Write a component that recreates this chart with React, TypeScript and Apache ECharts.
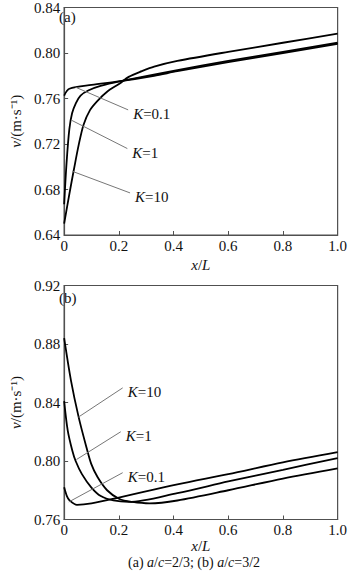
import React, { useEffect, useRef } from "react";
import * as echarts from "echarts";

// ---- Panel (a): a/c = 2/3 ----
const aK10X = [0, 0.019, 0.036, 0.053, 0.071, 0.095, 0.122, 0.157, 0.202, 0.236, 0.284, 0.329, 0.414, 0.6, 0.8, 1.0];
const aK10Y = [0.65, 0.676, 0.698, 0.719, 0.737, 0.75, 0.758, 0.766, 0.773, 0.779, 0.784, 0.788, 0.793, 0.801, 0.809, 0.817];
const aK1X = [0, 0.009, 0.019, 0.029, 0.043, 0.06, 0.088, 0.133, 0.202, 0.414, 0.6, 0.8, 1.0];
const aK1Y = [0.667, 0.704, 0.733, 0.747, 0.756, 0.7626, 0.767, 0.771, 0.775, 0.785, 0.793, 0.801, 0.809];
const aK01X = [0, 0.019, 0.1, 0.2, 0.329, 0.414, 0.6, 0.8, 1.0];
const aK01Y = [0.7626, 0.7686, 0.772, 0.775, 0.780, 0.784, 0.792, 0.800, 0.808];

// ---- Panel (b): a/c = 3/2 ----
const bK10X = [0, 0.025, 0.053, 0.082, 0.099, 0.122, 0.157, 0.202, 0.25, 0.312, 0.414, 0.6, 0.8, 1.0];
const bK10Y = [0.884, 0.855, 0.83, 0.809, 0.798, 0.789, 0.78, 0.774, 0.772, 0.771, 0.773, 0.780, 0.788, 0.795];
const bK1X = [0, 0.013, 0.03, 0.042, 0.065, 0.099, 0.134, 0.18, 0.236, 0.414, 0.6, 0.8, 1.0];
const bK1Y = [0.841, 0.821, 0.807, 0.8, 0.791, 0.782, 0.776, 0.773, 0.772, 0.778, 0.786, 0.794, 0.802];
const bK01X = [0, 0.01, 0.02, 0.047, 0.1, 0.2, 0.414, 0.6, 0.8, 1.0];
const bK01Y = [0.782, 0.776, 0.773, 0.770, 0.771, 0.775, 0.784, 0.791, 0.799, 0.806];

// tick ranges
const aYMin = 0.64, aYMax = 0.84;
const bYMin = 0.76, bYMax = 0.92;
const yStep = 0.04;
const xMin = 0, xMax = 1, xStep = 0.2;

// annotations: [label, leader start x, y, leader end x, y]
const aNotes: [string, number, number, number, number][] = [
  ["0.1", 0.041, 0.770, 0.234, 0.750],
  ["1", 0.026, 0.741, 0.231, 0.716],
  ["10", 0.03, 0.696, 0.241, 0.677],
];
const bNotes: [string, number, number, number, number][] = [
  ["10", 0.052, 0.830, 0.214, 0.850],
  ["1", 0.045, 0.801, 0.207, 0.820],
  ["0.1", 0.017, 0.772, 0.214, 0.792],
];

const FONT = "Liberation Serif";
const AXIS_COLOR = "#505050";
const FS = 15;

function zip(xs: number[], ys: number[]) {
  return xs.map((x, i) => [x, ys[i]]);
}

export default function App() {
  const ref = useRef<HTMLDivElement>(null);
  useEffect(() => {
    if (!ref.current) return;
    const chart = echarts.init(ref.current, undefined, { renderer: "svg" });

    const italic = { fontStyle: "italic", fontFamily: FONT, fontSize: FS, color: "#111" };
    const grids = [
      { left: 55, width: 290, top: 3, height: 232 },
      { left: 55, width: 290, top: 285.5, height: 234 },
    ];
    const mkX = (i: number, gap: number) => ({
      type: "value",
      gridIndex: i,
      min: xMin,
      max: xMax,
      interval: xStep,
      name: "{i|x}/{i|L}",
      nameLocation: "middle",
      nameGap: gap,
      nameTextStyle: { fontFamily: FONT, fontSize: FS, color: "#111", rich: { i: italic } },
      axisLine: { show: true, lineStyle: { color: AXIS_COLOR, width: 1.2 } },
      axisTick: { show: true, inside: true, length: 4, lineStyle: { color: AXIS_COLOR } },
      splitLine: { show: false },
      axisLabel: {
        fontFamily: FONT,
        fontSize: FS,
        color: "#111",
        margin: 3,
        formatter: (v: number) => (v === 0 ? "0" : v.toFixed(1)),
      },
    });
    const mkY = (i: number, min: number, max: number) => ({
      type: "value",
      gridIndex: i,
      min,
      max,
      interval: yStep,
      name: "{i|v}/(m·s⁻¹)",
      nameLocation: "middle",
      nameGap: 40,
      nameTextStyle: { fontFamily: FONT, fontSize: FS, color: "#111", rich: { i: italic } },
      axisLine: { show: true, lineStyle: { color: AXIS_COLOR, width: 1.2 } },
      axisTick: { show: true, inside: true, length: 4, lineStyle: { color: AXIS_COLOR } },
      splitLine: { show: false },
      axisLabel: {
        fontFamily: FONT,
        fontSize: FS,
        color: "#111",
        margin: 4,
        formatter: (v: number) => v.toFixed(2),
      },
    });

    const curve = (i: number, xs: number[], ys: number[]) => ({
      type: "line",
      xAxisIndex: i,
      yAxisIndex: i,
      data: zip(xs, ys),
      showSymbol: false,
      symbol: "none",
      smooth: 0.3,
      lineStyle: { color: "#000", width: 1.8 },
    });

    const noteSeries = (i: number, notes: [string, number, number, number, number][]) => ({
      type: "line",
      xAxisIndex: i,
      yAxisIndex: i,
      data: [],
      symbol: "none",
      markLine: {
        silent: true,
        symbol: ["none", "none"],
        lineStyle: { color: "#777", width: 1, type: "solid" },
        label: { show: false },
        data: notes.map((n) => [{ coord: [n[1], n[2]] }, { coord: [n[3], n[4]] }]),
      },
      markPoint: {
        silent: true,
        symbol: "circle",
        symbolSize: 0,
        data: notes.map((n) => ({
          coord: [n[3], n[4]],
          label: {
            show: true,
            position: "right",
            distance: 5,
            offset: [0, 4],
            formatter: "{i|K}=" + n[0],
            fontFamily: FONT,
            fontSize: FS,
            color: "#111",
            rich: { i: italic },
          },
        })),
      },
    });

    chart.setOption({
      animation: false,
      backgroundColor: "#fff",
      textStyle: { fontFamily: FONT },
      grid: grids.map((g) => ({ ...g, show: true, borderColor: AXIS_COLOR, borderWidth: 1.2, backgroundColor: "transparent" })),
      xAxis: [mkX(0, 22), mkX(1, 19)],
      yAxis: [mkY(0, aYMin, aYMax), mkY(1, bYMin, bYMax)],
      series: [
        curve(0, aK10X, aK10Y),
        curve(0, aK1X, aK1Y),
        curve(0, aK01X, aK01Y),
        noteSeries(0, aNotes),
        curve(1, bK10X, bK10Y),
        curve(1, bK1X, bK1Y),
        curve(1, bK01X, bK01Y),
        noteSeries(1, bNotes),
      ],
      graphic: [
        { type: "text", left: 59, top: 9, style: { text: "(a)", fontFamily: FONT, fontSize: FS, fill: "#111" } },
        { type: "text", left: 59, top: 290, style: { text: "(b)", fontFamily: FONT, fontSize: FS, fill: "#111" } },
        {
          type: "text",
          left: 128,
          top: 555,
          style: {
            text: "(a) {i|a}/{i|c}=2/3; (b) {i|a}/{i|c}=3/2",
            fontFamily: FONT,
            fontSize: 14,
            fill: "#111",
            rich: { i: { fontStyle: "italic", fontFamily: FONT, fontSize: 14, fill: "#111" } },
          },
        },
      ],
    });
    return () => chart.dispose();
  }, []);
  return (
    <div
      ref={ref}
      style={{ position: "absolute", left: 0, top: 0, width: 350, height: 572, background: "#fff" }}
    />
  );
}
